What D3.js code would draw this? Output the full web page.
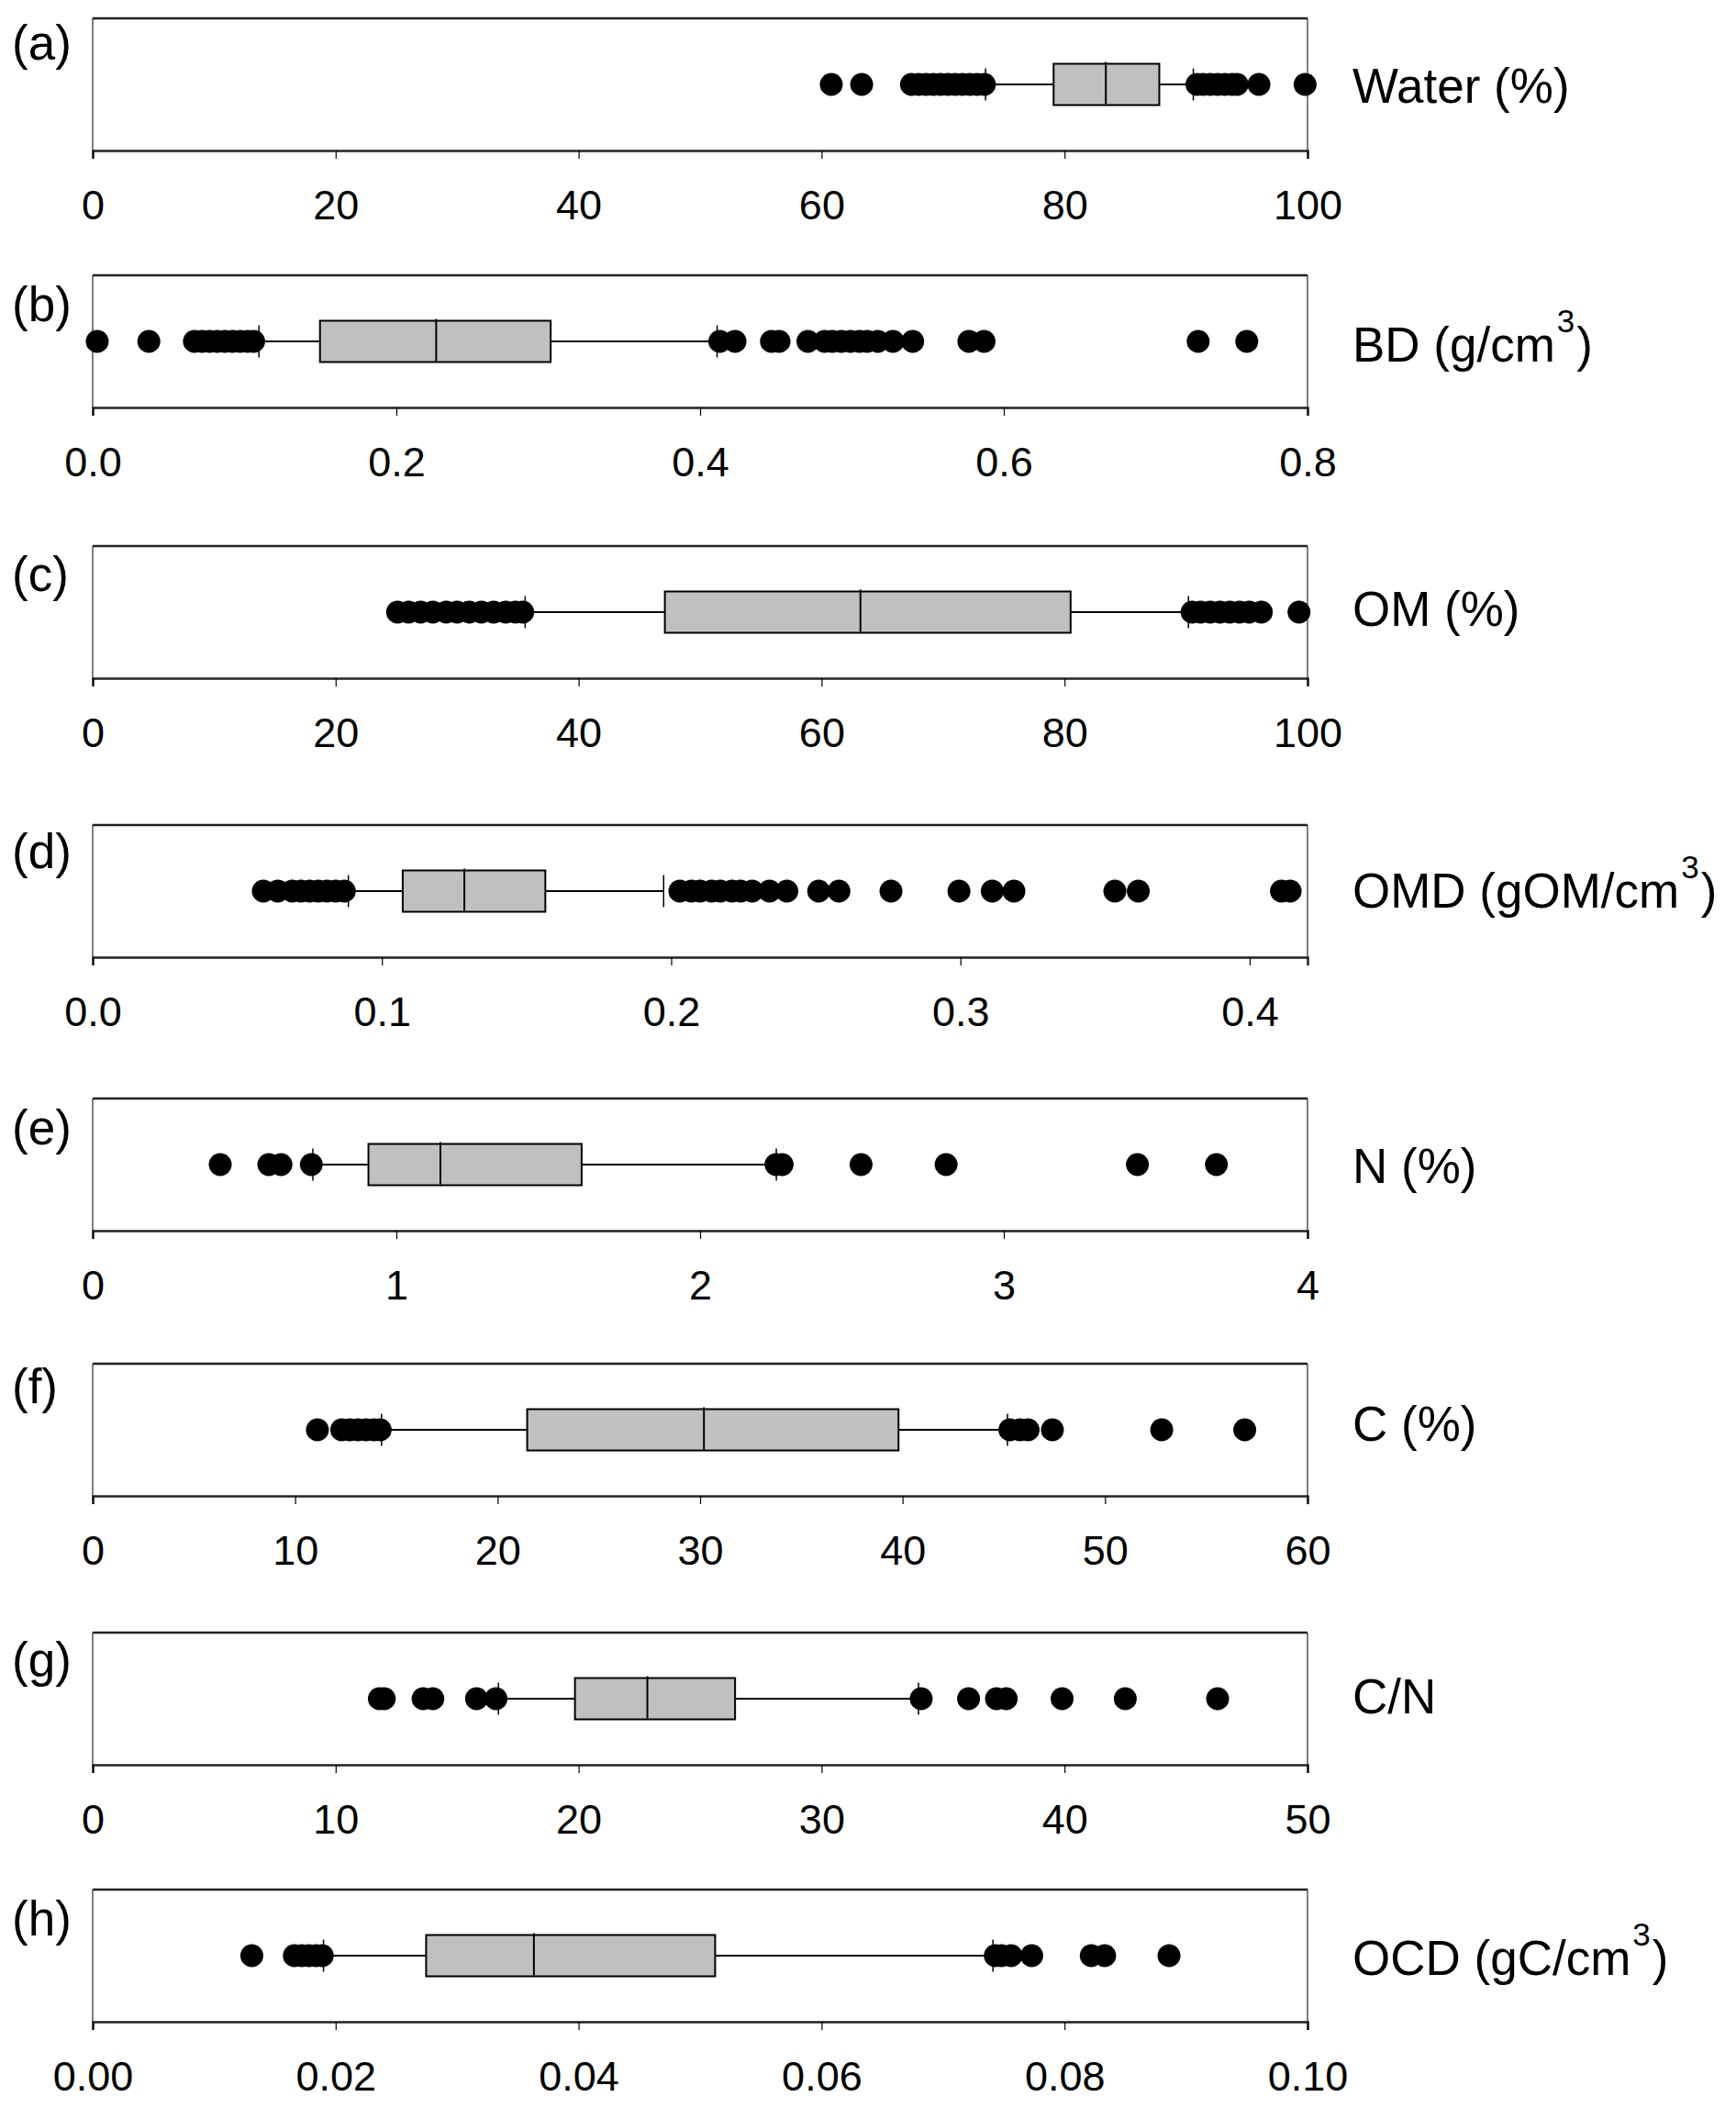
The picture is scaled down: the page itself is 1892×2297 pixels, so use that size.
<!DOCTYPE html>
<html><head><meta charset="utf-8">
<script src="https://cdn.jsdelivr.net/npm/d3@7"></script>
<style>body{margin:0;background:#fff} svg{display:block}</style>
</head><body>
<script>
// ---------- DATA ----------
const panelLetters = ["(a)", "(b)", "(c)", "(d)", "(e)", "(f)", "(g)", "(h)"];
const variableNames = [
  ["Water (%)"], ["BD (g/cm", "3", ")"], ["OM (%)"], ["OMD (gOM/cm", "3", ")"],
  ["N (%)"], ["C (%)"], ["C/N"], ["OCD (gC/cm", "3", ")"]
];
const axisMax = [100, 0.8, 100, 0.42, 4, 60, 50, 0.1];
const tickValues = [
  [0, 20, 40, 60, 80, 100],
  [0, 0.2, 0.4, 0.6, 0.8],
  [0, 20, 40, 60, 80, 100],
  [0, 0.1, 0.2, 0.3, 0.4],
  [0, 1, 2, 3, 4],
  [0, 10, 20, 30, 40, 50, 60],
  [0, 10, 20, 30, 40, 50],
  [0, 0.02, 0.04, 0.06, 0.08, 0.10]
];
const tickLabels = [
  ["0", "20", "40", "60", "80", "100"],
  ["0.0", "0.2", "0.4", "0.6", "0.8"],
  ["0", "20", "40", "60", "80", "100"],
  ["0.0", "0.1", "0.2", "0.3", "0.4"],
  ["0", "1", "2", "3", "4"],
  ["0", "10", "20", "30", "40", "50", "60"],
  ["0", "10", "20", "30", "40", "50"],
  ["0.00", "0.02", "0.04", "0.06", "0.08", "0.10"]
];
const whiskerLow  = [73.5, 0.1095, 35.6, 0.0884, 0.725, 14.27, 16.7, 0.0190];
const quartile1   = [79.1, 0.1497, 47.1, 0.1072, 0.908, 21.46, 19.85, 0.02745];
const medians     = [83.4, 0.2262, 63.2, 0.1285, 1.145, 30.19, 22.83, 0.03632];
const quartile3   = [87.8, 0.3016, 80.5, 0.1565, 1.610, 39.80, 26.44, 0.05124];
const whiskerHigh = [90.6, 0.4112, 90.2, 0.1974, 2.251, 45.18, 33.99, 0.07411];

const outliersWater = [60.8, 63.3, 67.4, 68.0, 68.6, 69.2, 69.8, 70.4, 71.0, 71.6, 72.2, 72.8, 73.4,
                       90.9, 91.4, 92.0, 92.6, 93.2, 93.8, 94.2, 96.0, 99.8];
const outliersBD = [0.003, 0.037, 0.067, 0.072, 0.077, 0.082, 0.087, 0.092, 0.097, 0.102, 0.106,
                    0.413, 0.423, 0.447, 0.452, 0.471, 0.482, 0.487, 0.493, 0.499, 0.505, 0.510,
                    0.517, 0.527, 0.540, 0.577, 0.587, 0.728, 0.760];
const outliersOM = [25.1, 26.0, 27.0, 28.0, 29.1, 30.0, 31.0, 32.0, 33.0, 34.0, 34.8, 35.4,
                    90.5, 91.2, 92.0, 92.8, 93.6, 94.4, 95.2, 96.2, 99.3];
const outliersOMD = [0.059, 0.064, 0.069, 0.072, 0.075, 0.078, 0.081, 0.084, 0.087,
                     0.203, 0.207, 0.210, 0.214, 0.217, 0.221, 0.224, 0.228, 0.234, 0.240,
                     0.251, 0.258, 0.276, 0.2995, 0.311, 0.3185, 0.3534, 0.3615, 0.411, 0.414];
const outliersN = [0.42, 0.58, 0.62, 0.72, 2.25, 2.27, 2.53, 2.81, 3.44, 3.70];
const outliersC = [11.1, 12.3, 12.7, 13.1, 13.5, 13.9, 14.2, 45.3, 45.8, 46.2, 47.4, 52.8, 56.9];
const outliersCN = [11.8, 12.0, 13.6, 14.0, 15.8, 16.6, 34.1, 36.05, 37.2, 37.6, 39.9, 42.5, 46.3];
const outliersOCD = [0.0131, 0.0166, 0.0172, 0.0178, 0.0184, 0.0189,
                     0.0743, 0.0748, 0.0756, 0.0773, 0.0822, 0.0833, 0.0886];
const outlierSets = [outliersWater, outliersBD, outliersOM, outliersOMD, outliersN, outliersC, outliersCN, outliersOCD];

// ---------- LAYOUT ----------
const W = 1892, H = 2297;
const plotLeft = 101, plotRight = 1425;
const panelTop = [20, 300, 595, 899, 1197, 1486, 1779, 2059];
const panelHeight = 144;
const letterBaseline = [45, 50, 49, 47, 50, 43, 48, 50];
const nameBaselineDy = [20, 22, 15, 18, 20, 12, 16, 21];
const boxH = 45, capH = 35, dotR = 12.5;
const FONT = "'Liberation Sans', Arial, Helvetica, sans-serif";

const svg = d3.select("body").append("svg").attr("width", W).attr("height", H)
  .style("font-family", FONT);
svg.append("rect").attr("width", W).attr("height", H).attr("fill", "#fff");

panelLetters.forEach((letter, i) => {
  const top = panelTop[i], bottom = top + panelHeight, cy = (top + bottom) / 2;
  const x = d3.scaleLinear().domain([0, axisMax[i]]).range([plotLeft, plotRight]);
  const g = svg.append("g");

  // frame
  g.append("line").attr("x1", plotLeft).attr("x2", plotLeft).attr("y1", top).attr("y2", bottom)
    .attr("stroke", "#000").attr("stroke-width", 1);
  g.append("line").attr("x1", plotRight).attr("x2", plotRight).attr("y1", top).attr("y2", bottom)
    .attr("stroke", "#000").attr("stroke-width", 1);
  g.append("line").attr("x1", plotLeft).attr("x2", plotRight).attr("y1", top).attr("y2", top)
    .attr("stroke", "#222").attr("stroke-width", 2.5);

  // axis
  const axis = d3.axisBottom(x).tickValues(tickValues[i])
    .tickFormat((d, k) => tickLabels[i][k]).tickSize(9).tickPadding(34);
  const ag = g.append("g").attr("transform", `translate(0,${bottom})`).call(axis);
  ag.select(".domain").attr("stroke", "#222").attr("stroke-width", 2.5);
  ag.selectAll(".tick line").attr("stroke", "#000").attr("stroke-width", 1.2);
  ag.selectAll(".tick text").attr("font-size", 45).attr("font-family", FONT).attr("fill", "#000");

  // whiskers
  g.append("line").attr("x1", x(whiskerLow[i])).attr("x2", x(quartile1[i])).attr("y1", cy).attr("y2", cy)
    .attr("stroke", "#000").attr("stroke-width", 2);
  g.append("line").attr("x1", x(quartile3[i])).attr("x2", x(whiskerHigh[i])).attr("y1", cy).attr("y2", cy)
    .attr("stroke", "#000").attr("stroke-width", 2);

  // outliers
  g.selectAll("circle.out").data(outlierSets[i]).join("circle").attr("class", "out")
    .attr("cx", d => x(d)).attr("cy", cy).attr("r", dotR).attr("fill", "#000");

  // caps
  [whiskerLow[i], whiskerHigh[i]].forEach(v => {
    g.append("line").attr("x1", x(v)).attr("x2", x(v)).attr("y1", cy - capH / 2).attr("y2", cy + capH / 2)
      .attr("stroke", "#000").attr("stroke-width", 1.5);
  });

  // box
  g.append("rect").attr("x", x(quartile1[i])).attr("y", cy - boxH / 2)
    .attr("width", x(quartile3[i]) - x(quartile1[i])).attr("height", boxH)
    .attr("fill", "#c0c0c0").attr("stroke", "#000").attr("stroke-width", 2);
  g.append("line").attr("x1", x(medians[i])).attr("x2", x(medians[i]))
    .attr("y1", cy - boxH / 2 - 2).attr("y2", cy + boxH / 2 - 1)
    .attr("stroke", "#000").attr("stroke-width", 2);

  // panel letter
  g.append("text").attr("x", 13).attr("y", top + letterBaseline[i])
    .attr("font-size", 53).attr("fill", "#000").text(letter);

  // variable name
  const parts = variableNames[i];
  const t = g.append("text").attr("x", 1474).attr("y", cy + nameBaselineDy[i])
    .attr("font-size", 53).attr("fill", "#000");
  t.append("tspan").text(parts[0]);
  if (parts.length > 1) {
    t.append("tspan").attr("font-size", 35).attr("dy", -32).attr("dx", 2).text(parts[1]);
    t.append("tspan").attr("font-size", 53).attr("dy", 32).attr("dx", 2).text(parts[2]);
  }
});
</script>
</body></html>
